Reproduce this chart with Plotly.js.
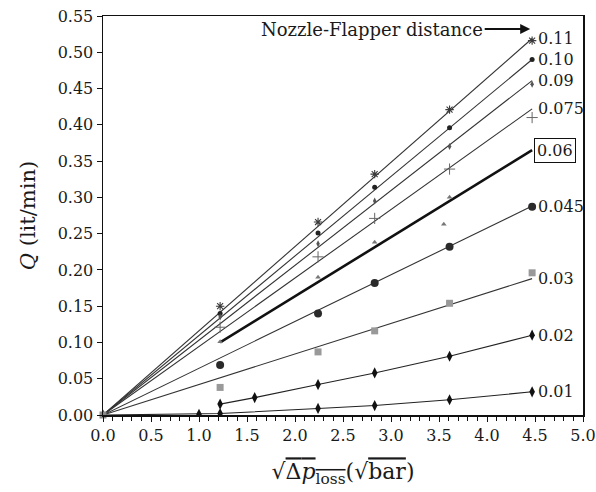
<!DOCTYPE html>
<html>
<head>
<meta charset="utf-8">
<script src="https://cdn.plot.ly/plotly-3.0.1.min.js"></script>
<style>
  html, body { margin: 0; padding: 0; background: #fff; }
  #chart { width: 596px; height: 492px; }
</style>
</head>
<body>
<div id="chart"></div>
<script>
// Square root of pressure loss (sqrt(bar)) at the measured points
const sqrtDp = [1.22, 2.24, 2.83, 3.61, 4.47];
const x006 = [1.22, 2.24, 2.83, 3.55, 3.61];
const x002 = [1.22, 1.58, 2.24, 2.83, 3.61, 4.47];
const x001 = [1.0, 1.22, 2.24, 2.83, 3.61, 4.47];
const origin = [0];

// Measured flow Q (lit/min) for each nozzle-flapper distance
const q011 = [0.150, 0.266, 0.332, 0.421, 0.516];
const q010 = [0.140, 0.251, 0.314, 0.396, 0.490];
const q009 = [0.135, 0.236, 0.295, 0.370, 0.456];
const q0075 = [0.121, 0.218, 0.271, 0.339, 0.410];
const q006 = [0.101, 0.190, 0.238, 0.263, 0.300];
const q0045 = [0.069, 0.140, 0.182, 0.232, 0.287];
const q003 = [0.038, 0.087, 0.116, 0.154, 0.196];
const q002 = [0.015, 0.024, 0.042, 0.058, 0.081, 0.110];
const q001 = [0.001, 0.002, 0.009, 0.013, 0.021, 0.032];

// Fitted straight lines through the origin (end value at the last x)
const fitLabels = ['0.11', '0.10', '0.09', '0.075', '0.045', '0.03'];
const fitEndQ = [0.519, 0.490, 0.461, 0.422, 0.288, 0.188];

// Fitted line for 0.06 (bold)
const fit06X = [1.22, 4.47];
const fit06Q = [0.100, 0.365];

const FONT = 'DejaVu Serif, Liberation Serif, serif';
const INK = '#1a1a1a';
const LINE = '#333333';
const xEnd = sqrtDp[sqrtDp.length - 1];

const traces = [];

fitLabels.forEach((lab, i) => {
  traces.push({
    x: [origin[0], xEnd], y: [origin[0], fitEndQ[i]],
    mode: 'lines', line: { color: LINE, width: 1.1 },
    hoverinfo: 'skip', showlegend: false
  });
});

traces.push({
  x: fit06X, y: fit06Q, mode: 'lines',
  line: { color: '#111', width: 2.6 }, showlegend: false
});

function pts(x, y, symbol, size, color, lineWidth) {
  return {
    x: x, y: y, mode: 'markers', showlegend: false,
    marker: { symbol: symbol, size: size, color: color, line: { color: color, width: lineWidth || 0 } }
  };
}

traces.push(pts(sqrtDp, q011, 'asterisk-open', 7, '#3a3a3a', 1.1));
traces.push(pts(sqrtDp, q010, 'circle', 5, '#222'));
traces.push(pts(sqrtDp, q009, 'diamond-tall', 5, '#555'));
traces.push(pts(sqrtDp, q0075, 'cross-thin-open', 8, '#666', 1));
traces.push(pts(x006, q006, 'triangle-up', 5, '#777'));
traces.push(pts(sqrtDp, q0045, 'circle', 8, '#2a2a2a'));
traces.push(pts(sqrtDp, q003, 'square', 7, '#999'));

traces.push({
  x: x002, y: q002, mode: 'lines+markers', showlegend: false,
  line: { color: '#222', width: 1.1 },
  marker: { symbol: 'diamond-tall', size: 8, color: '#111' }
});
traces.push({
  x: origin.concat(x001), y: origin.concat(q001), mode: 'lines+markers', showlegend: false,
  line: { color: '#222', width: 1.1 },
  marker: { symbol: 'diamond-tall', size: 8, color: '#111' }
});
traces.push({
  x: origin, y: origin, mode: 'markers', showlegend: false, cliponaxis: false,
  marker: { symbol: 'square', size: 7, color: '#888' }
});

// Distance labels at the end of each line
const labelDefs = [
  ['0.11', fitEndQ[0]], ['0.10', fitEndQ[1]], ['0.09', fitEndQ[2]],
  ['0.075', fitEndQ[3]], ['0.045', fitEndQ[4]], ['0.03', fitEndQ[5]],
  ['0.02', q002[q002.length - 1]], ['0.01', q001[q001.length - 1]]
];
const annotations = labelDefs.map(([t, y]) => ({
  x: xEnd, y: y, xref: 'x', yref: 'y', text: t, showarrow: false,
  xanchor: 'left', yanchor: 'middle', xshift: 4,
  font: { family: FONT, size: 16, color: INK }
}));
annotations.push({
  x: fit06X[1], y: fit06Q[1], xref: 'x', yref: 'y', text: '0.06', showarrow: false,
  xanchor: 'left', yanchor: 'middle', xshift: 2,
  bordercolor: '#111', borderwidth: 1, borderpad: 2, bgcolor: '#fff',
  font: { family: FONT, size: 16, color: INK }
});
annotations.push({
  x: 4.45, y: 0.532, xref: 'x', yref: 'y',
  text: 'Nozzle-Flapper distance', showarrow: true,
  ax: -158, ay: 0, arrowhead: 2, arrowsize: 1, arrowwidth: 2, arrowcolor: '#111',
  font: { family: FONT, size: 18, color: INK }
});

const layout = {
  width: 596, height: 492,
  margin: { l: 103, r: 13, t: 16, b: 77 },
  paper_bgcolor: '#fff', plot_bgcolor: '#fff',
  font: { family: FONT, size: 16, color: INK },
  showlegend: false,
  xaxis: {
    range: [0, 5], dtick: 0.5, tick0: 0, tickformat: '.1f',
    ticks: 'outside', ticklen: 5, tickwidth: 1, tickcolor: '#111',
    minor: { dtick: 0.1, ticks: 'outside', ticklen: 4, tickwidth: 1, tickcolor: '#111' },
    showline: true, linecolor: '#111', linewidth: 1.5, mirror: true,
    showgrid: false, zeroline: false,
    tickfont: { family: FONT, size: 16, color: INK },
    title: {
      text: '√<span style="text-decoration:overline">Δ<i>p</i><sub>loss</sub></span>(√<span style="text-decoration:overline">bar</span>)',
      font: { family: FONT, size: 22, color: INK }, standoff: 20
    }
  },
  yaxis: {
    range: [0, 0.55], dtick: 0.05, tick0: 0, tickformat: '.2f',
    ticks: 'outside', ticklen: 5, tickwidth: 1, tickcolor: '#111',
    showline: true, linecolor: '#111', linewidth: 1.5, mirror: true,
    showgrid: false, zeroline: false,
    tickfont: { family: FONT, size: 16, color: INK },
    title: {
      text: '<i>Q</i> (lit/min)',
      font: { family: FONT, size: 21, color: INK }, standoff: 16
    }
  },
  annotations: annotations
};

Plotly.newPlot('chart', traces, layout, { displayModeBar: false, staticPlot: true });
</script>
</body>
</html>
